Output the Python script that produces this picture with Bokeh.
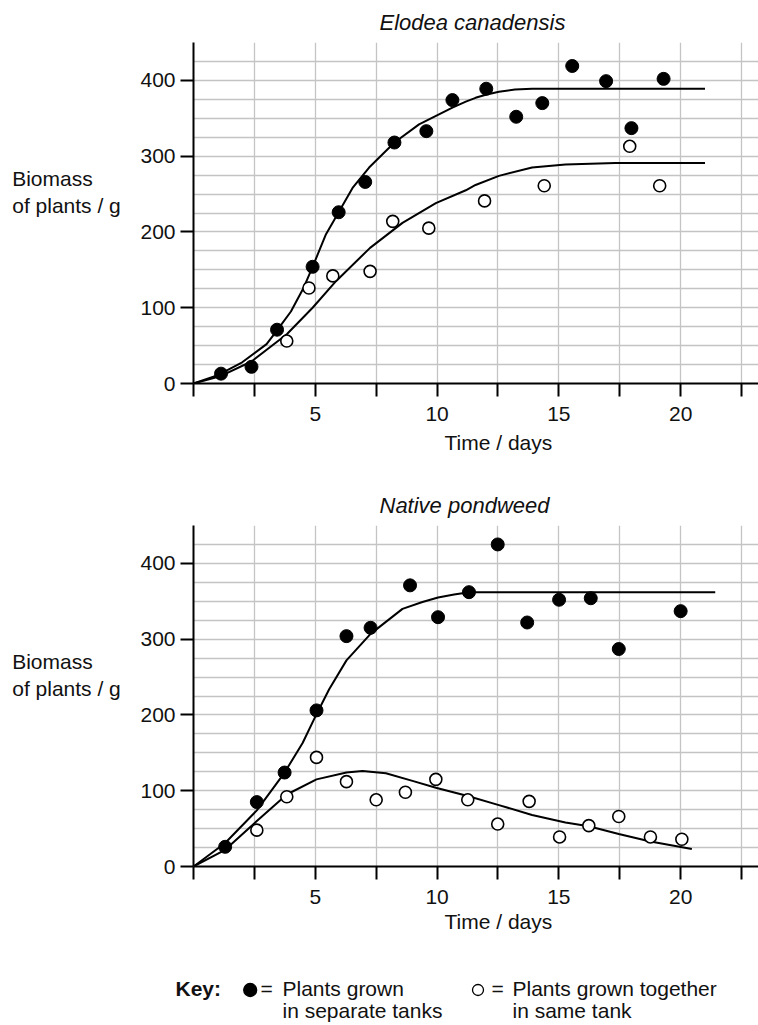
from bokeh.plotting import figure
from bokeh.models import Range1d, FixedTicker, Label
from bokeh.layouts import column, row
from bokeh.embed import file_html
from bokeh.resources import INLINE

# ---------------- data ----------------
# Elodea canadensis
elodea_sep_x = [1.13, 2.38, 3.43, 4.89, 5.96, 7.05, 8.25, 9.56, 10.63, 12.02, 13.25, 14.32, 15.55, 16.94, 17.98, 19.30]
elodea_sep_y = [13, 22, 71, 154, 226, 266, 318, 333, 374, 389, 352, 370, 419, 399, 337, 402]
elodea_tog_x = [3.83, 4.74, 5.72, 7.25, 8.18, 9.66, 11.95, 14.40, 17.91, 19.14]
elodea_tog_y = [56, 126, 142, 148, 214, 205, 241, 261, 313, 261]
elodea_sep_curve_x = [0, 1.0, 2.0, 3.0, 3.43, 4.0, 4.5, 4.89, 5.44, 5.96, 6.53, 7.21, 8.25, 9.26, 10.63, 11.18, 11.58, 12.0, 12.54, 13.2, 13.9, 21.0]
elodea_sep_curve_y = [0, 11, 28, 52, 70, 95, 125, 154, 197, 226, 258, 285, 318, 342, 364, 372, 377, 381, 385, 388, 389, 389]
elodea_tog_curve_x = [0, 1.13, 2.38, 3.83, 4.89, 5.85, 7.25, 8.58, 9.95, 11.18, 11.58, 12.54, 13.9, 15.27, 17.32, 21.0]
elodea_tog_curve_y = [0, 10, 29, 65, 100, 135, 179, 212, 238, 255, 262, 274, 285, 289, 291, 291]

# Native pondweed
pond_sep_x = [1.30, 2.60, 3.74, 5.05, 6.28, 7.27, 8.89, 10.04, 11.31, 12.49, 13.70, 15.01, 16.31, 17.46, 20.00]
pond_sep_y = [26, 85, 124, 206, 304, 315, 371, 329, 362, 425, 322, 352, 354, 287, 337]
pond_tog_x = [2.60, 3.83, 5.05, 6.28, 7.50, 8.70, 9.95, 11.26, 12.49, 13.78, 15.03, 16.23, 17.46, 18.76, 20.05]
pond_tog_y = [48, 92, 144, 112, 88, 98, 115, 88, 56, 86, 39, 54, 66, 39, 36]
pond_sep_curve_x = [0, 1.30, 2.60, 3.74, 4.48, 5.05, 5.57, 6.28, 7.27, 8.58, 9.4, 10.04, 10.7, 11.31, 21.42]
pond_sep_curve_y = [0, 31, 74, 124, 163, 201, 234, 272, 307, 340, 349, 355, 359, 362, 362]
pond_tog_curve_x = [0, 1.30, 2.60, 3.83, 5.05, 6.28, 6.94, 7.90, 8.99, 9.95, 11.26, 12.54, 13.90, 15.27, 16.23, 17.46, 18.76, 20.46]
pond_tog_curve_y = [0, 22, 60, 95, 115, 124, 126, 123, 113, 104, 93, 81, 68, 58, 53, 43, 33, 23]

x_labels = [5, 10, 15, 20]
x_minor = [0, 2.5, 7.5, 12.5, 17.5, 22.5]
y_labels = [0, 100, 200, 300, 400]
x_grid = [2.5, 5, 7.5, 10, 12.5, 15, 17.5, 20, 22.5]
y_grid = [25, 50, 75, 100, 125, 150, 175, 200, 225, 250, 275, 300, 325, 350, 375, 400, 425, 450]

FONT = "Liberation Sans"
FS = "21px"
TXT = "#111111"
PX_PER_DAY = 24.4
PAGE_W = 758
LEFT_W = 137        # width of the strip holding the y label
PLOT_W = PAGE_W - LEFT_W
AXIS_BORDER = 55    # room for the y tick labels inside the plot
FRAME_W = PLOT_W - AXIS_BORDER
FRAME_H = 341
BOTTOM_BORDER = 45
BASE_FIX = 8        # labels render ~8px below the requested baseline


def no_align(p):
    if "frame_align" in p.properties():
        p.frame_align = False
    return p


def strip(y0, y1, x0=0, x1=PAGE_W):
    """A blank figure whose data coordinates are page pixels."""
    s = figure(width=x1 - x0, height=y1 - y0, x_range=Range1d(x0, x1), y_range=Range1d(y1, y0),
               output_backend="svg", toolbar_location=None, min_border=0)
    s.xaxis.visible = False
    s.yaxis.visible = False
    s.grid.visible = False
    s.outline_line_color = None
    return no_align(s)


def put(p, x, y, t, size=FS, style="normal"):
    p.add_layout(Label(x=x, y=y - BASE_FIX, text=t, text_font=FONT, text_font_size=size, text_color=TXT,
                       text_font_style=style, text_baseline="alphabetic", text_align="left"))


def make_plot(sx, sy, tx, ty, scx, scy, tcx, tcy):
    p = figure(width=PLOT_W, height=FRAME_H + BOTTOM_BORDER,
               x_range=Range1d(0, FRAME_W / PX_PER_DAY), y_range=Range1d(0, 450),
               output_backend="svg", toolbar_location=None,
               min_border_left=AXIS_BORDER, min_border_right=0,
               min_border_top=0, min_border_bottom=BOTTOM_BORDER)
    no_align(p)
    p.outline_line_color = None

    p.xgrid.ticker = FixedTicker(ticks=x_grid)
    p.ygrid.ticker = FixedTicker(ticks=y_grid)
    p.grid.grid_line_color = "#c4c4c4"
    p.grid.grid_line_width = 1.3

    xa = p.xaxis[0]
    xa.ticker = FixedTicker(ticks=x_labels, minor_ticks=x_minor)
    xa.axis_line_width = 2
    xa.axis_line_color = "black"
    xa.major_tick_in = 0
    xa.major_tick_out = 13
    xa.minor_tick_in = 0
    xa.minor_tick_out = 13
    xa.major_tick_line_width = 2
    xa.minor_tick_line_width = 2
    xa.major_tick_line_color = "black"
    xa.minor_tick_line_color = "black"
    xa.major_label_text_font = FONT
    xa.major_label_text_font_size = FS
    xa.major_label_text_color = TXT
    xa.major_label_standoff = 10

    ya = p.yaxis[0]
    ya.ticker = FixedTicker(ticks=y_labels, minor_ticks=[])
    ya.axis_line_width = 2
    ya.axis_line_color = "black"
    ya.major_tick_in = 0
    ya.major_tick_out = 13
    ya.major_tick_line_width = 2
    ya.major_tick_line_color = "black"
    ya.minor_tick_out = 0
    ya.minor_tick_in = 0
    ya.major_label_text_font = FONT
    ya.major_label_text_font_size = FS
    ya.major_label_text_color = TXT
    ya.major_label_standoff = 5

    p.line(scx, scy, line_color="black", line_width=2)
    p.line(tcx, tcy, line_color="black", line_width=2)
    p.scatter(sx, sy, marker="circle", size=13, fill_color="black", line_color="black")
    p.scatter(tx, ty, marker="circle", size=12, fill_color="white", line_color="black", line_width=1.6)
    return p


def panel(title, top, title_h, bottom_h, time_base, sx, sy, tx, ty, scx, scy, tcx, tcy):
    # title strip
    t = strip(top, top + title_h)
    put(t, 379, top + title_h - 12, title, size="22px", style="italic")
    f0 = top + title_h
    f1 = f0 + FRAME_H + BOTTOM_BORDER
    # y-label strip
    lab = strip(f0, f1, 0, LEFT_W)
    put(lab, 11.7, f0 + 144, "Biomass")
    put(lab, 11.7, f0 + 170.7, "of plants / g")
    p = make_plot(sx, sy, tx, ty, scx, scy, tcx, tcy)
    # x-label strip
    b = strip(f1, f1 + bottom_h)
    put(b, 444, time_base, "Time / days")
    return [t, no_align(row(lab, p, spacing=0)), b], f1 + bottom_h


parts1, y_end1 = panel("Elodea canadensis", 0, 42, 42, 450,
                       elodea_sep_x, elodea_sep_y, elodea_tog_x, elodea_tog_y,
                       elodea_sep_curve_x, elodea_sep_curve_y, elodea_tog_curve_x, elodea_tog_curve_y)
parts2, y_end2 = panel("Native pondweed", y_end1, 55, 27, 929,
                       pond_sep_x, pond_sep_y, pond_tog_x, pond_tog_y,
                       pond_sep_curve_x, pond_sep_curve_y, pond_tog_curve_x, pond_tog_curve_y)

# key
key_marker_x = [249.7, 477.5]
key_marker_y = [989.5, 989.5]
key_marker_size = [13, 11]
key_fill = ["black", "white"]
k = strip(y_end2, 1024)
k.scatter(key_marker_x, key_marker_y, marker="circle", size=key_marker_size,
          fill_color=key_fill, line_color="black", line_width=1.3)
put(k, 175, 996, "Key:", style="bold")
put(k, 260, 996, "=")
put(k, 282, 996, "Plants grown")
put(k, 282, 1018, "in separate tanks")
put(k, 491, 996, "=")
put(k, 512, 996, "Plants grown together")
put(k, 512, 1018, "in same tank")

layout = column(*parts1, *parts2, k, spacing=0)
open("out.html", "w").write(file_html(layout, INLINE))
